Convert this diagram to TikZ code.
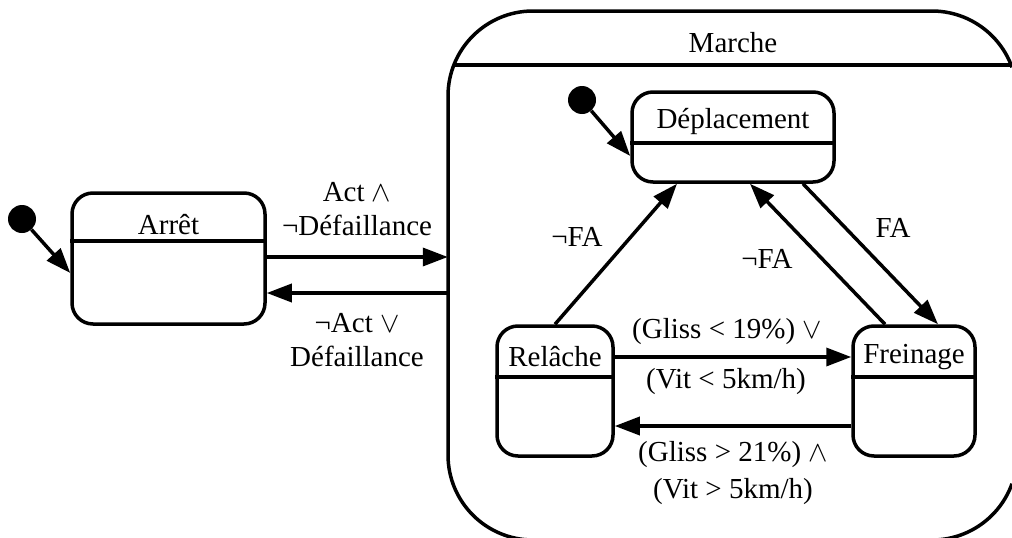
\documentclass[tikz,border=0pt]{standalone}
\usepackage{fix-cm}
\usepackage{fontspec}
\setmainfont{Liberation Serif}
\usetikzlibrary{arrows.meta}
\begin{document}
\begin{tikzpicture}[x=1pt,y=-1pt,
  every node/.style={font=\fontsize{29}{34}\selectfont, inner sep=0pt},
  box/.style={draw, line width=3.5pt, rounded corners=21pt},
  divline/.style={line width=3.5pt},
  initdot/.style={circle, fill=black, minimum size=28pt},
  arr/.style={line width=3.5pt, -{Triangle[length=25pt,width=18pt]}},
  lbl/.style={align=center}]
\path[use as bounding box] (0,0) rectangle (1012,538);
\clip (0,0) rectangle (1012,538);

% composite state Marche (extends past the right and bottom edges)
\node[overlay, minimum width=569pt, minimum height=529pt] (marche) at (732.5,275.5) {};
\draw[divline] (1012,67.28) arc[start angle=-19.76, end angle=-90, radius=85]
  -- (533,11) arc[start angle=-90, end angle=-180, radius=85]
  -- (448,455) arc[start angle=180, end angle=90, radius=85]
  -- (932,540) arc[start angle=90, end angle=19.76, radius=85];
\draw[divline] ([xshift=5.9pt]marche.west |- 0,65) -- (1012,65);
\node (marcheT) at (733,43) {Marche};

% Arret
\node[box, minimum width=193pt, minimum height=131pt] (arret) at (168.5,258.5) {};
\draw[divline] (arret.west |- 0,241) -- (arret.east |- 0,241);
\node (arretT) at (168.5,225) {Arrêt};
\node[initdot] (i1) at (22,219) {};
\draw[arr] (i1) -- (arret.west |- 0,273);

% Deplacement
\node[box, minimum width=202pt, minimum height=90pt] (depl) at (733,137) {};
\draw[divline] (depl.west |- 0,143) -- (depl.east |- 0,143);
\node (deplT) at (733,122) {Déplacement};
\node[initdot] (i2) at (582,100) {};
\draw[arr] (i2) -- (depl.west |- 0,156);

% Relache
\node[box, minimum width=116pt, minimum height=130pt] (relache) at (555,391) {};
\draw[divline] (relache.west |- 0,377) -- (relache.east |- 0,377);
\node (relacheT) at (555,357) {Relâche};

% Freinage
\node[box, minimum width=122pt, minimum height=130pt] (frein) at (914,391) {};
\draw[divline] (frein.west |- 0,377) -- (frein.east |- 0,377);
\node (freinT) at (914,357) {Freinage};

% transitions Arret <-> Marche
\draw[arr] (arret.east |- 0,257) -- (marche.west |- 0,257);
\draw[arr] (marche.west |- 0,293) -- (arret.east |- 0,293);
\node[lbl] (l1) at (357,209) {Act $\land$\\¬Défaillance};
\node[lbl] (l2) at (357,340) {¬Act $\lor$\\Défaillance};

% transitions inside Marche
\draw[arr] (relache.north) -- (depl.south -| 677,0);
\draw[arr] (frein.north -| 885,0) -- (depl.south -| 750,0);
\draw[arr] (depl.south -| 803,0) -- (frein.north -| 938,0);
\node (l3) at (577,237) {¬FA};
\node (l4) at (893,228) {FA};
\node (l5) at (767,259) {¬FA};

\draw[arr] (relache.east |- 0,357) -- (frein.west |- 0,357);
\draw[arr] (frein.west |- 0,426) -- (relache.east |- 0,426);
\node (l6) at (727,332) {(Gliss < 19\%) $\lor$};
\node (l7) at (726,382) {(Vit < 5km/h)};
\node (l8) at (733,455) {(Gliss > 21\%) $\land$};
\node (l9) at (733,492) {(Vit > 5km/h)};
\end{tikzpicture}
\end{document}
